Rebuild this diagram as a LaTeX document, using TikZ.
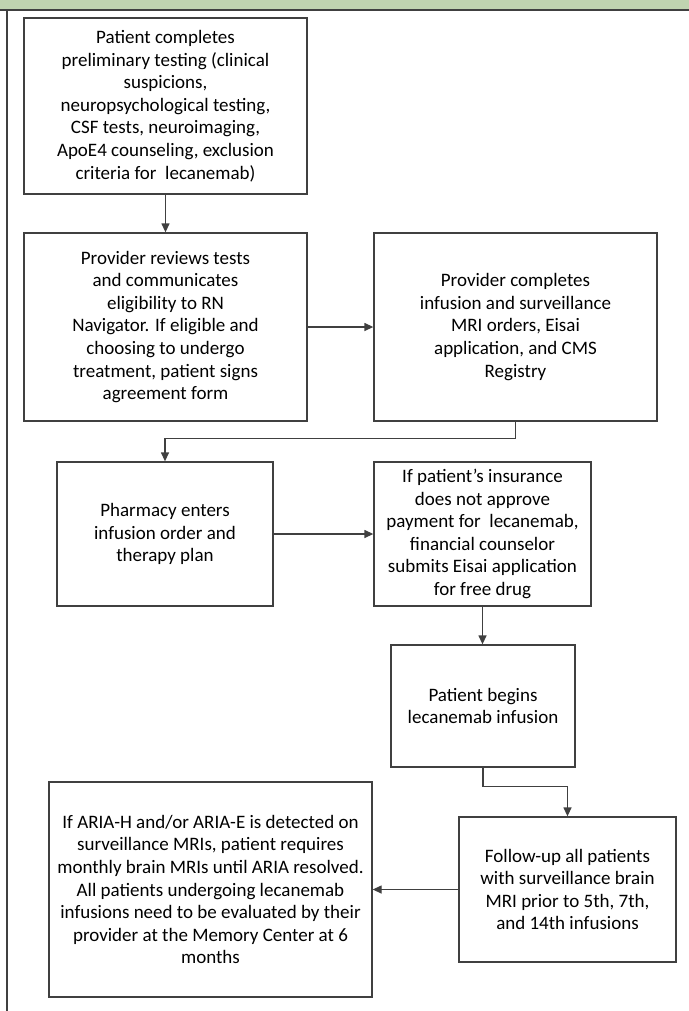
\documentclass[tikz,border=0pt]{standalone}
\usepackage{fontspec}
\setmainfont{Carlito}
\usetikzlibrary{arrows.meta}
\definecolor{bannergreen}{RGB}{192,211,176}
\definecolor{linegray}{RGB}{64,64,64}
\begin{document}
\begin{tikzpicture}[x=1bp,y=-1bp,
    stepbox/.style={draw=linegray,line width=1.3bp,align=center,inner sep=0pt,
        font=\fontsize{19bp}{22.6bp}\selectfont},
    flow/.style={draw=linegray,line width=1.3bp,-{Triangle[length=9bp,width=8bp]}}]
    \useasboundingbox (0,0) rectangle (689,1011);
    \fill[bannergreen] (0,0) rectangle (689,10);
    \draw[linegray,line width=1.3bp] (0,10) -- (689,10);
    \draw[linegray,line width=1.3bp] (7,10) -- (7,1011);
    % boxes
    \node[stepbox,minimum width=283bp,minimum height=176bp] (tests) at (165.5,106)
        {Patient completes\\preliminary testing (clinical\\suspicions,\\neuropsychological testing,\\CSF tests, neuroimaging,\\ApoE4 counseling, exclusion\\criteria for\ \ lecanemab)};
    \node[stepbox,minimum width=283bp,minimum height=188bp] (review) at (165.5,327)
        {Provider reviews tests\\and communicates\\eligibility to RN\\Navigator. If eligible and\\choosing to undergo\\treatment, patient signs\\agreement form};
    \node[stepbox,minimum width=283bp,minimum height=188bp] (orders) at (515.5,327)
        {Provider completes\\infusion and surveillance\\MRI orders, Eisai\\application, and CMS\\Registry};
    \node[stepbox,minimum width=216bp,minimum height=144bp] (pharmacy) at (165,534)
        {Pharmacy enters\\infusion order and\\therapy plan};
    \node[stepbox,minimum width=217bp,minimum height=144bp] (insurance) at (482.5,534)
        {If patient’s insurance\\does not approve\\payment for\ \ lecanemab,\\financial counselor\\submits Eisai application\\for free drug};
    \node[stepbox,minimum width=184bp,minimum height=122bp] (infusion) at (483,706)
        {Patient begins\\lecanemab infusion};
    \node[stepbox,minimum width=217bp,minimum height=145bp] (followup) at (567.5,889.5)
        {Follow-up all patients\\with surveillance brain\\MRI prior to 5th, 7th,\\and 14th infusions};
    \node[stepbox,minimum width=323bp,minimum height=215bp] (aria) at (210.5,889.5)
        {If ARIA-H and/or ARIA-E is detected on\\surveillance MRIs, patient requires\\monthly brain MRIs until ARIA resolved.\\All patients undergoing lecanemab\\infusions need to be evaluated by their\\provider at the Memory Center at 6\\months};
    % arrows
    \draw[flow] (tests.south) -- (tests.south |- review.north);
    \draw[flow] (review.east) -- (orders.west);
    \draw[flow] (orders.south) -- ++(0,17) -| (pharmacy.north);
    \draw[flow] (pharmacy.east) -- (insurance.west);
    \draw[flow] (insurance.south) -- (insurance.south |- infusion.north);
    \draw[flow] (infusion.south) -- ++(0,19) -| (followup.north);
    \draw[flow] (followup.west) -- (aria.east);
\end{tikzpicture}
\end{document}
